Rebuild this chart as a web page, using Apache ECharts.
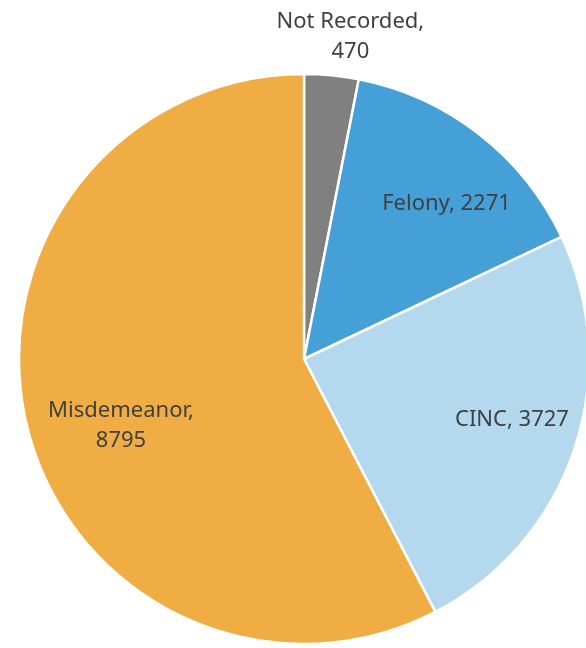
<!DOCTYPE html>
<html>
<head>
<meta charset="utf-8">
<script src="https://cdn.jsdelivr.net/npm/echarts@6/dist/echarts.min.js"></script>
<style>html,body{margin:0;padding:0;background:#fff}#c{width:586px;height:648px}</style>
</head>
<body>
<div id="c"></div>
<script>
const categories = ['Not Recorded', 'Felony', 'CINC', 'Misdemeanor'];
const values = [470, 2271, 3727, 8795];

const colors = ['#808080', '#45A0D8', '#B4D9EE', '#F0AD43'];
const labelOffsets = [[26, -112], [13, 11], [8, -7], [22, 17]];
const twoLine = [true, false, false, true];

const chart = echarts.init(document.getElementById('c'), null, {renderer: 'canvas'});
const center = [304, 359];
const R = 285;

const baseData = categories.map((n, i) => ({
  name: n, value: values[i],
  itemStyle: {color: colors[i]}
}));
const labelData = categories.map((n, i) => ({
  name: n, value: values[i],
  label: {offset: labelOffsets[i]}
}));

chart.setOption({
  animation: false,
  series: [
    {
      type: 'pie',
      center: center,
      radius: [0, R],
      startAngle: 90,
      clockwise: true,
      label: {show: false},
      labelLine: {show: false},
      itemStyle: {borderColor: '#ffffff', borderWidth: 2.5},
      emphasis: {disabled: true},
      data: baseData
    },
    {
      type: 'pie',
      center: center,
      radius: [131, R],
      startAngle: 90,
      clockwise: true,
      silent: true,
      itemStyle: {color: 'rgba(0,0,0,0)', borderWidth: 0},
      labelLine: {show: false},
      emphasis: {disabled: true},
      label: {
        show: true,
        position: 'inside',
        color: '#404040',
        fontFamily: 'Noto Sans',
        fontSize: 22,
        lineHeight: 30,
        align: 'center',
        formatter: p => twoLine[p.dataIndex] ? p.name + ',\n' + p.value : p.name + ', ' + p.value
      },
      data: labelData
    }
  ]
});
</script>
</body>
</html>
